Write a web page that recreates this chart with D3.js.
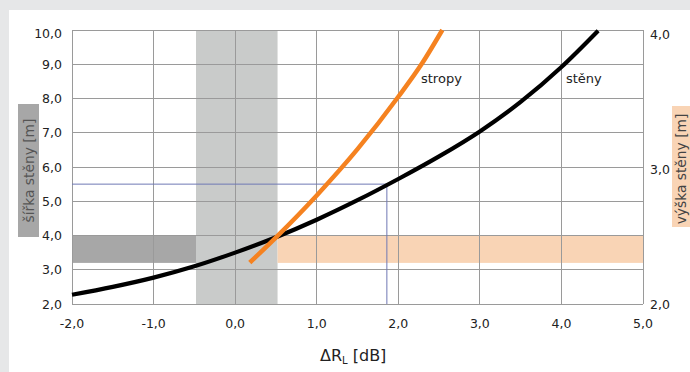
<!DOCTYPE html>
<html><head><meta charset="utf-8">
<script src="https://cdn.jsdelivr.net/npm/d3@7"></script>
<style>
html,body{margin:0;padding:0;background:#e6e7e8;}
svg{display:block;}
text{font-family:"DejaVu Sans",sans-serif;}
</style></head>
<body><svg id="c" width="690" height="372"></svg>
<script>
// ---- data ----
const xTicks = [-2, -1, 0, 1, 2, 3, 4, 5];
const yTicks = [2, 3, 4, 5, 6, 7, 8, 9, 10];
const yRightTicks = [2, 3, 4];
const stenyX = [-2, -1.5, -1, -0.5, 0, 0.5, 1, 1.5, 2, 2.5, 3, 3.5, 4, 4.45];
const stenyY = [2.27, 2.50, 2.77, 3.10, 3.50, 3.95, 4.46, 5.03, 5.65, 6.31, 7.04, 7.90, 8.92, 9.98];
const stropyX = [0.18, 0.52, 1.0, 1.5, 2.0, 2.29, 2.54];
const stropyY = [3.21, 3.99, 5.17, 6.52, 8.05, 9.02, 10.0];
const grayBandX = [-0.48, 0.52];
const widthBandY = [3.2, 4.0];
const guideX = 1.86, guideY = 5.5;
const seriesLabels = ["stropy", "stěny"];
const leftTitle = "šířka stěny [m]";
const rightTitle = "výška stěny [m]";

const svg = d3.select("#c");
svg.append("rect").attr("x", 9).attr("y", 10).attr("width", 681).attr("height", 362).attr("fill", "#fff");

const x = d3.scaleLinear().domain([-2, 5]).range([72, 643]);
const y = d3.scaleLinear().domain([2, 10]).range([304, 30]);
const yR = d3.scaleLinear().domain([2, 4]).range([304, 30]);
const fmt = v => d3.format(".1f")(v).replace(".", ",").replace("−", "-");

// bands
svg.append("rect").attr("x", x(grayBandX[0])).attr("y", y(10)).attr("width", x(grayBandX[1]) - x(grayBandX[0])).attr("height", y(2) - y(10)).attr("fill", "#c9cbca");
svg.append("rect").attr("x", x(-2)).attr("y", y(widthBandY[1])).attr("width", x(grayBandX[0]) - x(-2)).attr("height", y(widthBandY[0]) - y(widthBandY[1])).attr("fill", "#a7a7a7");
svg.append("rect").attr("x", x(grayBandX[1])).attr("y", y(widthBandY[1])).attr("width", x(5) - x(grayBandX[1])).attr("height", y(widthBandY[0]) - y(widthBandY[1])).attr("fill", "#f9d4b5");

// grid
const g = svg.append("g").attr("stroke", "#9a9a9a").attr("stroke-width", 1).attr("shape-rendering", "crispEdges");
xTicks.forEach(t => g.append("line").attr("x1", x(t)).attr("x2", x(t)).attr("y1", y(2)).attr("y2", y(10)));
yTicks.forEach(t => g.append("line").attr("x1", x(-2)).attr("x2", x(5)).attr("y1", y(t)).attr("y2", y(t)));

// guide lines
const gl = svg.append("g").attr("stroke", "#6f78b4").attr("stroke-width", 1).attr("fill", "none");
gl.append("path").attr("d", `M${x(-2)},${y(guideY)}H${x(guideX)}V${y(2)}`);

// curves
const line = d3.line().x(d => x(d[0])).y(d => y(d[1])).curve(d3.curveMonotoneX);
svg.append("path").datum(stenyX.map((v, i) => [v, stenyY[i]])).attr("d", line)
  .attr("fill", "none").attr("stroke", "#000").attr("stroke-width", 4.2);
svg.append("path").datum(stropyX.map((v, i) => [v, stropyY[i]])).attr("d", line)
  .attr("fill", "none").attr("stroke", "#f58220").attr("stroke-width", 4.5);

// series labels
svg.append("text").attr("x", 421).attr("y", 83).attr("font-size", 13).attr("fill", "#222").text(seriesLabels[0]);
svg.append("text").attr("x", 566).attr("y", 83).attr("font-size", 13).attr("fill", "#222").text(seriesLabels[1]);

// tick labels
const tl = svg.append("g").attr("font-size", 12.5).attr("fill", "#222");
yTicks.forEach(t => tl.append("text").attr("x", 62).attr("y", y(t) + (t === 10 ? 3 : 0)).attr("dy", "0.36em").attr("text-anchor", "end").text(fmt(t)));
yRightTicks.forEach(t => tl.append("text").attr("x", 650).attr("y", yR(t) + (t === 4 ? 4 : (t === 3 ? 2 : 0))).attr("dy", "0.36em").text(fmt(t)));
xTicks.forEach(t => tl.append("text").attr("x", x(t)).attr("y", 327.5).attr("text-anchor", "middle").text(fmt(t)));

// axis titles
svg.append("rect").attr("x", 18).attr("y", 104).attr("width", 21).attr("height", 133).attr("fill", "#a7a7a7");
svg.append("text").attr("transform", "translate(33.5,170.5) rotate(-90)").attr("text-anchor", "middle").attr("font-size", 13.8).attr("fill", "#555").text(leftTitle);
svg.append("rect").attr("x", 672).attr("y", 106).attr("width", 18).attr("height", 121).attr("fill", "#f9d4b5");
svg.append("text").attr("transform", "translate(686,169) rotate(-90)").attr("text-anchor", "middle").attr("font-size", 13.8).attr("fill", "#444").text(rightTitle);

const xt = svg.append("text").attr("x", 320).attr("y", 361).attr("font-size", 16).attr("fill", "#222");
xt.append("tspan").text("ΔR");
xt.append("tspan").attr("font-size", 10).attr("dy", 3).text("L");
xt.append("tspan").attr("dy", -3).text(" [dB]");
</script></body></html>
